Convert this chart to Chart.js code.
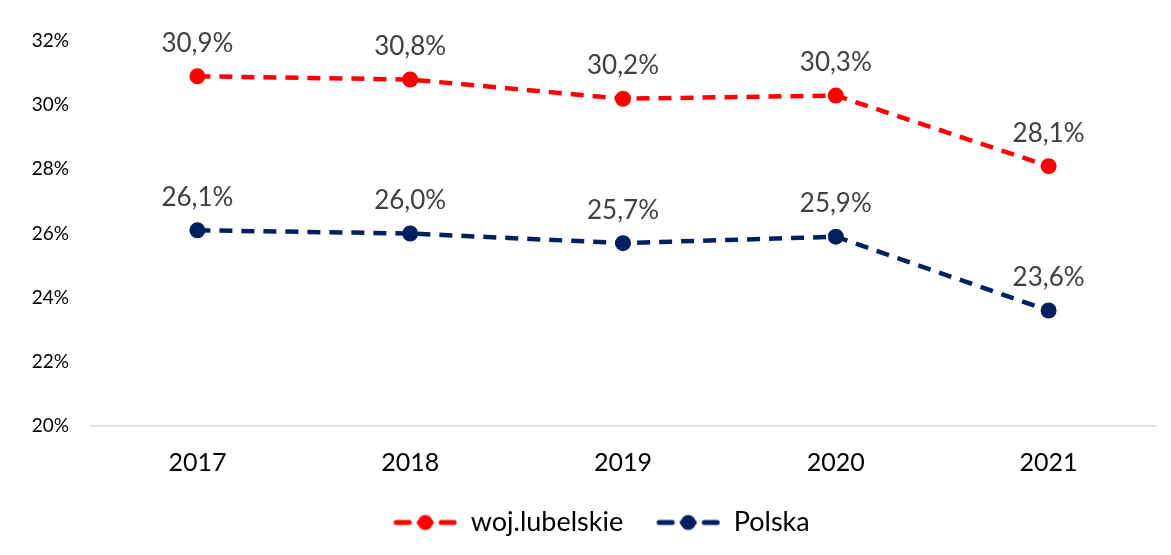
<!DOCTYPE html>
<html>
<head>
<meta charset="utf-8">
<script src="https://cdn.jsdelivr.net/npm/chart.js@4"></script>
<style>
  html, body { margin: 0; padding: 0; background: #fff; }
  #wrap { width: 1171px; height: 555px; }
</style>
</head>
<body>
<div id="wrap"><canvas id="myChart" width="1171" height="555"></canvas></div>
<script>
// data
const years = ['2017', '2018', '2019', '2020', '2021'];
const lubelskie = [30.9, 30.8, 30.2, 30.3, 28.1];
const polska = [26.1, 26.0, 25.7, 25.9, 23.6];
const seriesNames = ['woj.lubelskie', 'Polska'];
const yMin = 20, yMax = 32, yStep = 2;

const RED = '#ff0000';
const NAVY = '#002060';
const FONT = 'Lato, "Open Sans", sans-serif';

// legend marker: dashed line with a dot in the middle (like Excel)
function legendMarker(color) {
  const c = document.createElement('canvas');
  c.width = 64; c.height = 20;
  const g = c.getContext('2d');
  g.strokeStyle = color;
  g.lineWidth = 5;
  g.lineCap = 'round';
  g.beginPath(); g.moveTo(3, 10); g.lineTo(16, 10); g.stroke();
  g.beginPath(); g.moveTo(48, 10); g.lineTo(61, 10); g.stroke();
  g.beginPath(); g.moveTo(26, 10); g.lineTo(38, 10); g.stroke();
  g.fillStyle = color;
  g.beginPath(); g.arc(32, 10, 7.5, 0, Math.PI * 2); g.fill();
  return c;
}

// value labels above points
const valueLabels = {
  id: 'valueLabels',
  afterDatasetsDraw(chart) {
    const ctx = chart.ctx;
    ctx.save();
    ctx.font = '26px ' + FONT;
    ctx.fillStyle = '#404040';
    ctx.textAlign = 'center';
    ctx.textBaseline = 'middle';
    chart.data.datasets.forEach((ds, i) => {
      chart.getDatasetMeta(i).data.forEach((pt, j) => {
        const txt = ds.data[j].toFixed(1).replace('.', ',') + '%';
        ctx.fillText(txt, pt.x, pt.y - 33);
      });
    });
    ctx.restore();
  }
};

// legend sits a bit right of centre in the original
const legendShift = {
  id: 'legendShift',
  afterLayout(chart) {
    if (chart.legend) {
      chart.legend.left += 24;
      chart.legend.right += 24;
    }
  }
};

const markers = [legendMarker(RED), legendMarker(NAVY)];

const myChart = new Chart('myChart', {
  type: 'line',
  data: {
    labels: years,
    datasets: [
      {
        label: seriesNames[0],
        data: lubelskie,
        borderColor: RED,
        backgroundColor: RED,
        borderWidth: 4.5,
        borderDash: [13, 9],
        pointRadius: 8,
        pointHoverRadius: 8,
        pointBorderWidth: 0,
        tension: 0
      },
      {
        label: seriesNames[1],
        data: polska,
        borderColor: NAVY,
        backgroundColor: NAVY,
        borderWidth: 4.5,
        borderDash: [13, 9],
        pointRadius: 8,
        pointHoverRadius: 8,
        pointBorderWidth: 0,
        tension: 0
      }
    ]
  },
  options: {
    responsive: false,
    animation: false,
    layout: { padding: { top: 41, right: 16, left: 0, bottom: 9 } },
    scales: {
      x: {
        offset: true,
        grid: { display: false },
        border: { color: '#d9d9d9', width: 1.5 },
        ticks: { color: '#000', font: { family: FONT, size: 25 }, padding: 14 },
        afterFit(scale) { scale.height = 50; }
      },
      y: {
        min: yMin,
        max: yMax,
        grid: { display: false },
        border: { display: false },
        ticks: {
          stepSize: yStep,
          color: '#000',
          padding: 14,
          font: { family: FONT, size: 19 },
          callback: v => v + '%'
        },
        afterFit(scale) { scale.width = 91; }
      }
    },
    plugins: {
      tooltip: { enabled: false },
      legend: {
        position: 'bottom',
        labels: {
          usePointStyle: true,
          pointStyleWidth: 64,
          padding: 33,
          color: '#000',
          font: { family: FONT, size: 27 },
          generateLabels(chart) {
            return chart.data.datasets.map((ds, i) => ({
              text: ds.label,
              pointStyle: markers[i],
              fillStyle: ds.borderColor,
              strokeStyle: ds.borderColor,
              lineWidth: 0,
              hidden: false,
              datasetIndex: i
            }));
          }
        }
      }
    }
  },
  plugins: [valueLabels, legendShift]
});
</script>
</body>
</html>
